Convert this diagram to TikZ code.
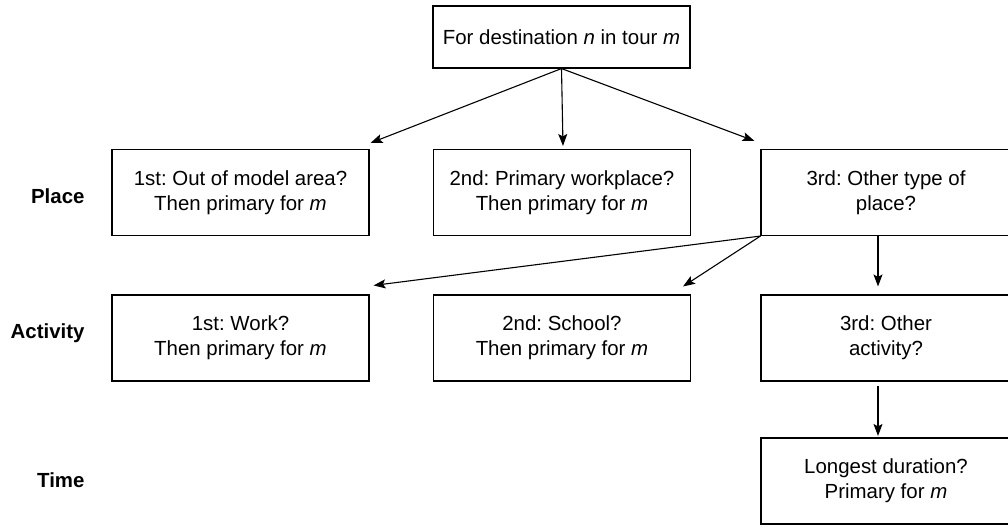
\documentclass[tikz,border=0pt]{standalone}
\usepackage{fontspec}
\setmainfont{Liberation Sans}
\usetikzlibrary{arrows.meta,calc}
\frenchspacing
\begin{document}
\begin{tikzpicture}[x=1bp,y=-1bp,
  box/.style={draw,line width=1.1bp,rectangle,align=center,inner sep=0pt,
    minimum height=86bp,font=\fontsize{20.5}{25}\selectfont},
  wide/.style={box,minimum width=257bp},
  topbox/.style={box,minimum width=257bp,minimum height=62bp},
  rowlabel/.style={anchor=east,font=\fontsize{20.5}{25}\selectfont\bfseries},
  link/.style={line width=1.1bp,-{Stealth[length=12bp,width=9bp,inset=2.5bp]}}]
\useasboundingbox (0,0) rectangle (1008,525);

% question at the top
\node[topbox] (top) at (561.5,37) {For destination \textit{n} in tour \textit{m}};

% place level
\node[wide] (p1) at (240.5,192.5) {1st: Out of model area?\\Then primary for \textit{m}};
\node[wide] (p2) at (562,192.5) {2nd: Primary workplace?\\Then primary for \textit{m}};
\node[box,minimum width=250bp] (p3) at (886,192.5) {3rd: Other type of\\place?};

% activity level
\node[wide] (a1) at (240.5,338) {1st: Work?\\Then primary for \textit{m}};
\node[wide] (a2) at (562,338) {2nd: School?\\Then primary for \textit{m}};
\node[box,minimum width=250bp] (a3) at (886,338) {3rd: Other\\activity?};

% time level
\node[box,minimum width=250bp] (t3) at (886,481) {Longest duration?\\Primary for \textit{m}};

% level names
\node[rowlabel] (lp) at (88,196) {Place};
\node[rowlabel] (la) at (88,333) {Activity};
\node[rowlabel] (lt) at (88,480) {Time};

% connectors
\draw[link] (top.south) -- ($(p1.north east)+(1,-6)$);
\draw[link] (top.south) -- ($(p2.north)+(1,-3)$);
\draw[link] (top.south) -- ($(p3.north west)+(-6,-8)$);
\draw[link] (p3.south west) -- ($(a1.north east)+(4,-9)$);
\draw[link] (p3.south west) -- ($(a2.north east)+(-8,-8)$);
\draw[link] ($(p3.south)+(-8,0)$) -- ($(a3.north)+(-8,-8)$);
\draw[link] ($(a3.south)+(-8,4)$) -- ($(t3.north)+(-8,-1.5)$);
\end{tikzpicture}
\end{document}
